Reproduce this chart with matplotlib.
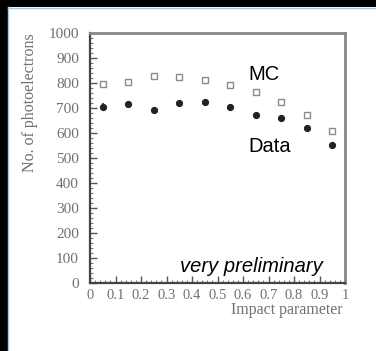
import matplotlib

matplotlib.use("Agg")
import matplotlib.pyplot as plt
from matplotlib.patches import Rectangle
from matplotlib.lines import Line2D
from matplotlib.ticker import MultipleLocator

# Impact parameter bins and number of photoelectrons
impact = [0.05, 0.15, 0.25, 0.35, 0.45, 0.55, 0.65, 0.75, 0.85, 0.95]
mc_pe = [795, 805, 828, 823, 812, 792, 765, 725, 672, 609]
data_pe = [705, 716, 692, 719, 723, 705, 672, 661, 621, 551]
data_err = [14, 10, 10, 10, 10, 10, 10, 10, 10, 10]

y_ticks = list(range(0, 1001, 100))
x_ticks = [0, 0.1, 0.2, 0.3, 0.4, 0.5, 0.6, 0.7, 0.8, 0.9, 1]
x_tick_labels = ["0", "0.1", "0.2", "0.3", "0.4", "0.5", "0.6", "0.7", "0.8", "0.9", "1"]

W, H = 376, 351
fig = plt.figure(figsize=(W / 100, H / 100), dpi=100)
fig.patch.set_facecolor("white")

# dark frame strips on the top and left edges
fig.add_artist(Rectangle((0, 0), 7.5 / W, 1, transform=fig.transFigure, color="black", lw=0))
fig.add_artist(Rectangle((0, 1 - 6.5 / H), 1, 6.5 / H, transform=fig.transFigure, color="black", lw=0))
fig.add_artist(Line2D([8 / W, 8 / W], [0, 1 - 7 / H], transform=fig.transFigure, color="#a9c8e8", lw=1))
fig.add_artist(Line2D([8 / W, 1], [1 - 7.5 / H, 1 - 7.5 / H], transform=fig.transFigure, color="#a9c8e8", lw=1))

ax = fig.add_axes([90 / W, 1 - 283 / H, 255 / W, 250 / H])
ax.set_xlim(0, 1)
ax.set_ylim(0, 1000)

ax.plot(impact, mc_pe, linestyle="none", marker="s", markersize=4.0,
        markerfacecolor="white", markeredgecolor="#8a8a8a", markeredgewidth=1.0)
ax.errorbar(impact, data_pe, yerr=data_err, fmt="o", markersize=4.2,
            color="#222222", ecolor="#222222", elinewidth=1.2, capsize=0)

serif = ["Liberation Serif", "DejaVu Serif"]
ax.set_yticks(y_ticks)
ax.set_yticklabels([str(v) for v in y_ticks], family=serif, fontsize=11, color="#707070")
ax.set_xticks(x_ticks)
ax.set_xticklabels(x_tick_labels, family=serif, fontsize=10.5, color="#707070")
ax.yaxis.set_minor_locator(MultipleLocator(20))
ax.xaxis.set_minor_locator(MultipleLocator(0.02))
ax.tick_params(axis="both", which="major", direction="in", length=5, width=1, color="#555555")
ax.tick_params(axis="both", which="minor", direction="in", length=2.5, width=0.8, color="#777777")
ax.tick_params(axis="y", which="major", pad=8)
ax.tick_params(axis="x", which="major", pad=4)

for side in ("left", "bottom"):
    ax.spines[side].set_color("#444444")
    ax.spines[side].set_linewidth(1.6)
for side in ("top", "right"):
    ax.spines[side].set_color("#888888")
    ax.spines[side].set_linewidth(2.0)

ax.text(0.62, 812, "MC", family="Liberation Sans", fontsize=14.5, ha="left", va="baseline")
ax.text(0.62, 524, "Data", family="Liberation Sans", fontsize=14.5, ha="left", va="baseline")
ax.text(0.353, 44, "very preliminary", family="Liberation Sans", style="italic",
        fontsize=14.5, ha="left", va="baseline")

fig.text(30 / W, 1 - 103 / H, "No. of photoelectrons", family=serif, fontsize=11.5,
         color="#707070", rotation=90, ha="center", va="center")
fig.text(343 / W, 1 - 310 / H, "Impact parameter", family=serif, fontsize=11.5,
         color="#707070", ha="right", va="center")

fig.savefig("out.png", dpi=100)
